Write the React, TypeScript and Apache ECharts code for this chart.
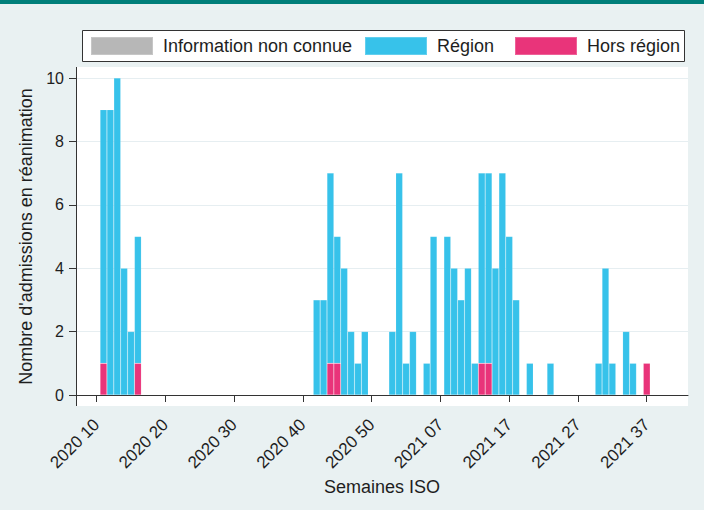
import React, { useEffect, useRef } from "react";
import * as echarts from "echarts";

// ---- Data ----
const tickLabels = ["2020 10", "2020 20", "2020 30", "2020 40", "2020 50", "2021 07", "2021 17", "2021 27", "2021 37"];
const seriesNames = ["Information non connue", "Région", "Hors région"];
const firstWeek2020 = 7;
const lastWeek2020 = 53;
const lastWeek2021 = 43;

const regionCounts: [string, number][] = [
  ["2020 11", 8], ["2020 12", 9], ["2020 13", 10], ["2020 14", 4], ["2020 15", 2], ["2020 16", 4],
  ["2020 42", 3], ["2020 43", 3], ["2020 44", 6], ["2020 45", 4], ["2020 46", 4], ["2020 47", 2],
  ["2020 48", 1], ["2020 49", 2], ["2020 53", 2],
  ["2021 01", 7], ["2021 02", 1], ["2021 03", 2], ["2021 05", 1], ["2021 06", 5], ["2021 08", 5],
  ["2021 09", 4], ["2021 10", 3], ["2021 11", 4], ["2021 12", 1], ["2021 13", 6], ["2021 14", 6],
  ["2021 15", 4], ["2021 16", 7], ["2021 17", 5], ["2021 18", 3], ["2021 20", 1], ["2021 23", 1],
  ["2021 30", 1], ["2021 31", 4], ["2021 32", 1], ["2021 34", 2], ["2021 35", 1],
];
const horsRegionCounts: [string, number][] = [
  ["2020 11", 1], ["2020 16", 1], ["2020 44", 1], ["2020 45", 1], ["2021 13", 1], ["2021 14", 1], ["2021 37", 1],
];
const inconnueCounts: [string, number][] = [];

const colors = { inconnue: "#b7b7b7", region: "#37c2ea", hors: "#e9347a" };

// ---- Build categories ----
const pad = (n: number) => (n < 10 ? "0" + n : "" + n);
const weeks: string[] = [];
for (let w = firstWeek2020; w <= lastWeek2020; w++) weeks.push("2020 " + pad(w));
for (let w = 1; w <= lastWeek2021; w++) weeks.push("2021 " + pad(w));

const toSeries = (pairs: [string, number][]) => {
  const m = new Map(pairs);
  return weeks.map((wk) => (m.has(wk) ? m.get(wk)! : null));
};

const FONT = '"Liberation Sans", Arial, sans-serif';
const TXT = "#1e1e1e";

export default function App() {
  const ref = useRef<HTMLDivElement>(null);
  useEffect(() => {
    document.body.style.margin = "0";
    const chart = echarts.init(ref.current!, null, { renderer: "svg" });
    const showTick = (_i: number, v: string) => tickLabels.includes(v);
    const barStyle = (c: string) => ({
      color: c,
      borderColor: "rgba(255,255,255,0.22)",
      borderWidth: 0.5,
    });
    const legendBase = {
      top: 36,
      padding: 0,
      itemWidth: 62,
      itemHeight: 18,
      icon: "rect",
      selectedMode: false,
      textStyle: { fontSize: 18, fontFamily: FONT, color: TXT, padding: [0, 0, 0, 5] },
    };
    chart.setOption({
      animation: false,
      backgroundColor: "#e9f1f2",
      textStyle: { fontFamily: FONT },
      graphic: [
        { type: "rect", z: -1, shape: { x: 0, y: 0, width: 704, height: 4 }, style: { fill: "#007f7a" } },
        { type: "rect", z: -1, shape: { x: 76, y: 67, width: 612, height: 339 }, style: { fill: "#ffffff" } },
        {
          type: "rect", z: -1,
          shape: { x: 82.5, y: 30.5, width: 602, height: 31 },
          style: { fill: "#ffffff", stroke: "#333333", lineWidth: 1 },
        },
        { type: "line", z: 5, shape: { x1: 76.5, y1: 67, x2: 76.5, y2: 406 }, style: { stroke: "#333333", lineWidth: 1 } },
      ],
      legend: [
        { ...legendBase, left: 90, data: [seriesNames[0]] },
        { ...legendBase, left: 364, data: [seriesNames[1]] },
        { ...legendBase, left: 514, data: [seriesNames[2]] },
      ],
      grid: { left: 76, right: 16, top: 78, bottom: 115, containLabel: false },
      xAxis: {
        type: "category",
        data: weeks,
        boundaryGap: false,
        offset: 11,
        name: "Semaines ISO",
        nameLocation: "middle",
        nameGap: 72,
        nameTextStyle: { fontSize: 18, color: TXT, fontFamily: FONT },
        axisLine: { show: true, lineStyle: { color: "#333333", width: 1 } },
        axisTick: { show: true, interval: showTick, length: 7, lineStyle: { color: "#333333" } },
        axisLabel: { interval: showTick, rotate: 45, margin: 16, fontSize: 17, color: TXT, fontFamily: FONT },
        splitLine: { show: false },
      },
      yAxis: {
        type: "value",
        min: 0,
        max: 10,
        interval: 2,
        name: "Nombre d'admissions en réanimation",
        nameLocation: "middle",
        nameGap: 33,
        nameTextStyle: { fontSize: 18, color: TXT, fontFamily: FONT },
        axisLine: { show: false },
        axisTick: { show: true, length: 7, lineStyle: { color: "#333333" } },
        axisLabel: { margin: 12, fontSize: 16, color: TXT, fontFamily: FONT },
        splitLine: { show: true, lineStyle: { color: "#e6eef1", width: 1 } },
      },
      series: [
        { name: seriesNames[2], type: "bar", stack: "t", barWidth: "100%", data: toSeries(horsRegionCounts), itemStyle: barStyle(colors.hors) },
        { name: seriesNames[1], type: "bar", stack: "t", barWidth: "100%", data: toSeries(regionCounts), itemStyle: barStyle(colors.region) },
        { name: seriesNames[0], type: "bar", stack: "t", barWidth: "100%", data: toSeries(inconnueCounts), itemStyle: barStyle(colors.inconnue) },
      ],
    });
    return () => chart.dispose();
  }, []);
  return <div ref={ref} style={{ position: "fixed", left: 0, top: 0, width: 704, height: 510 }} />;
}
